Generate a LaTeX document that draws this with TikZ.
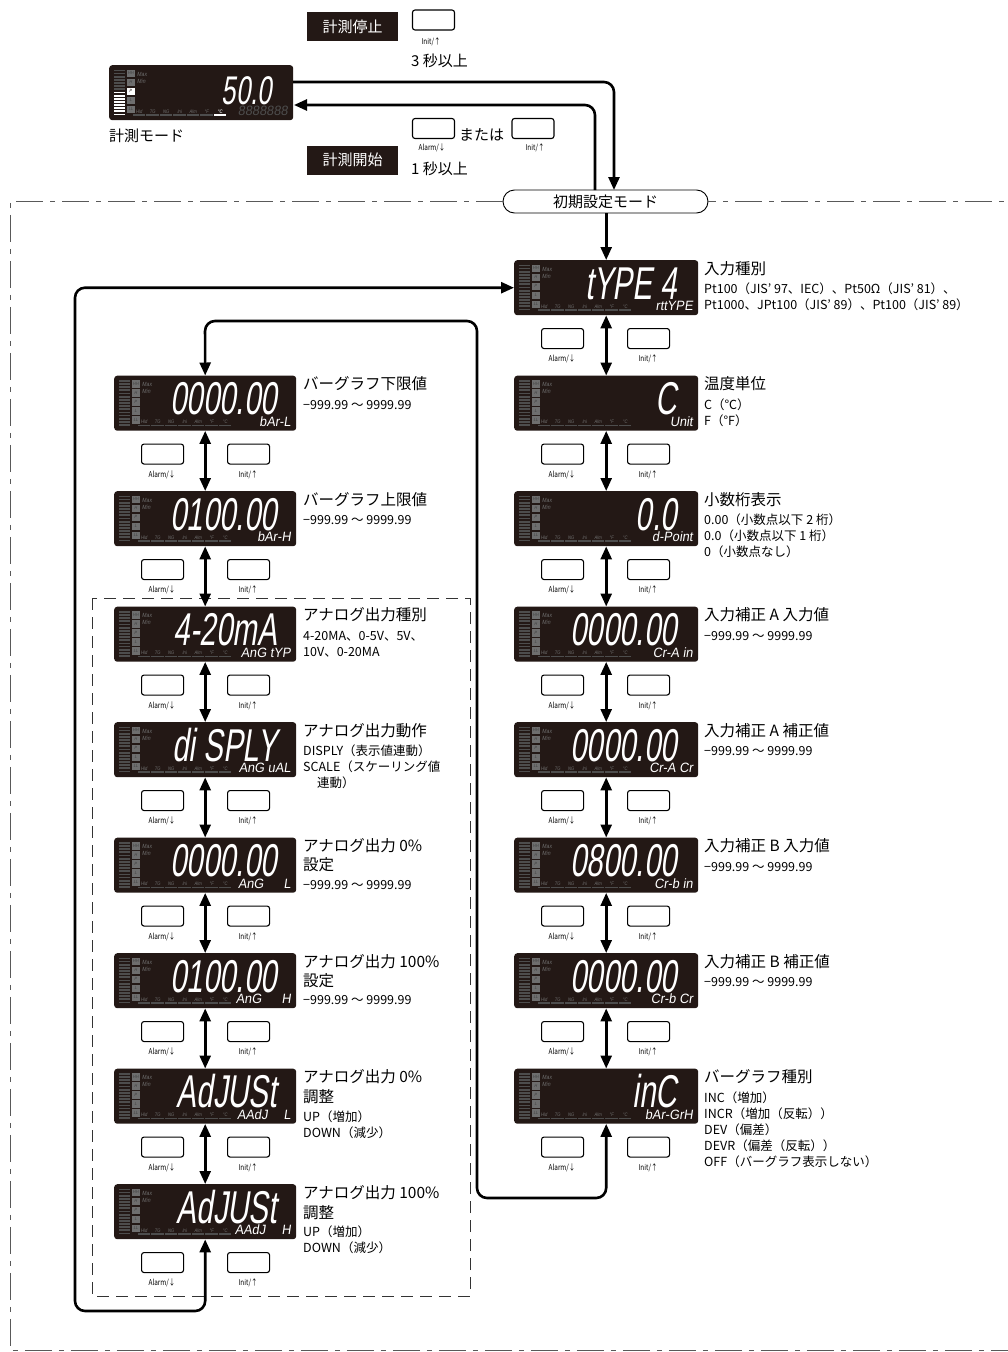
\documentclass[tikz,border=0pt]{standalone}
\usepackage{fontspec}
\setmainfont{Noto Sans CJK JP}
\newfontfamily\segfont[FakeSlant=0.15,FakeStretch=0.64]{Liberation Sans}
\newfontfamily\subfont[FakeSlant=0.15,FakeStretch=0.95]{Liberation Sans}
\newfontfamily\lblfont[FakeSlant=0.15,FakeStretch=0.85]{Liberation Sans}
\newfontfamily\btnfont[FakeStretch=0.8]{Noto Sans CJK JP}
\usetikzlibrary{arrows.meta}
\definecolor{pbg}{HTML}{231815}
\definecolor{pbar}{HTML}{4D4D4D}
\definecolor{plbl}{HTML}{6E6E6E}
\tikzset{
  >={Triangle[length=13pt,width=11pt]},
  panelbox/.style={fill=pbg, rounded corners=3pt, inner sep=0, minimum height=55pt, anchor=north west},
  btn/.style={draw=black, line width=1.1pt, fill=white, rounded corners=2.5pt, minimum width=42pt, minimum height=20pt, inner sep=0},
  btnlbl/.style={font=\btnfont\fontsize{8}{8}\selectfont, inner sep=0},
  conn/.style={line width=2.6pt, draw=black},
  tinylbl/.style={font=\lblfont\fontsize{4.5}{4.5}\selectfont, text=black!75, inner sep=0},
  maxlbl/.style={font=\lblfont\fontsize{6}{6}\selectfont, text=plbl, inner sep=0, anchor=west},
  botlbl/.style={font=\lblfont\fontsize{5}{5}\selectfont, text=plbl, inner sep=0},
  segmain/.style={font=\segfont\fontsize{46}{46}\selectfont, text=white, anchor=base east, inner sep=0},
  segsub/.style={font=\subfont\fontsize{13.5}{13.5}\selectfont, text=white, anchor=base east, inner sep=0},
  dtitle/.style={font=\fontsize{15.5}{19}\selectfont, inner sep=0, anchor=base west},
  ddet/.style={font=\fontsize{12.5}{16}\selectfont, inner sep=0, anchor=base west},
  jtext/.style={font=\fontsize{15}{18}\selectfont, inner sep=0, anchor=base west},
  blackbox/.style={fill=pbg, text=white, font=\fontsize{15}{15}\selectfont, minimum width=91pt, minimum height=29pt, inner sep=0},
  pill/.style={draw=black, line width=0.9pt, fill=white, rounded corners=11.5pt, minimum width=205pt, minimum height=23pt, inner sep=0, font=\fontsize{15}{15}\selectfont},
  dashdotbox/.style={draw=black!65, line width=0.9pt, dash pattern=on 27pt off 7pt on 5pt off 7pt},
  dashedbox/.style={draw=black!80, line width=0.9pt, dash pattern=on 12pt off 7pt},
}
% name, x, y, main, sub, width
\newcommand\dpanel[6]{%
  \node[panelbox, minimum width=#6] (#1) at (#2,#3) {};
  \begin{scope}[shift={(#2,#3)}]
    \foreach \i in {0,...,14}{\fill[pbar] (5,{4.5+\i*3.15}) rectangle (16,{6.3+\i*3.15});}
    \foreach \t/\yy [count=\c] in {HH/4.5,H/13.5,P/22.5,L/31.5,LL/40.5}{%
      \fill[plbl] (18,\yy) rectangle (25.5,\yy+7.5);
      \node[tinylbl] (#1-h\c) at (21.75,\yy+3.9) {\t};}
    \node[maxlbl] (#1-max) at (28,9) {Max};
    \node[maxlbl] (#1-min) at (28,16) {Min};
    \foreach \t/\xx [count=\c] in {Hld/30,TG/43.5,NG/57,Ini/70.5,Alm/84,°F/97.5,°C/111}{%
      \node[botlbl] (#1-b\c) at (\xx,46.3) {\t};
      \fill[pbar] (\xx-6.3,49.3) rectangle (\xx+6,50.7);}
    \node[segmain] (#1-main) at (163,39) {#4};
    \node[segsub] (#1-sub) at (#6-5,50.5) {#5};
  \end{scope}}
% name, panel left x, panel bottom y
\newcommand\btns[3]{%
  \node[btn, anchor=north west] (#1a) at (#2+27,#3+13) {};
  \node[btnlbl] (#1al) at (#2+48,#3+44) {Alarm/↓};
  \node[btn, anchor=north west] (#1i) at (#2+113,#3+13) {};
  \node[btnlbl] (#1il) at (#2+134,#3+44) {Init/↑};}
% name prefix, x, first baseline, lines
\newcommand\dl[4]{%
  \foreach \L [count=\k] in {#4}{\node[ddet] (#1\k) at (#2,{#3+(\k-1)*16}) {\L};}}
\begin{document}
\begin{tikzpicture}[x=1pt,y=-1pt]
\useasboundingbox (0,0) rectangle (1007,1352);

% outer dash-dot frame and inner dashed frame
\node[pill] (pill) at (605.5,201.5) {初期設定モード};
\draw[dashdotbox] (pill.west) -- (10,201.5) -- (10,1350) -- (1015,1350) -- (1015,201.5) -- (pill.east);
\draw[dashedbox] (92,598) rectangle (470,1296);

% top: measurement mode
\node[blackbox] (stop) at (352.5,26.5) {計測停止};
\node[btn] (stopbtn) at (433.5,20) {};
\node[btnlbl] (stopl) at (431,42) {Init/↑};
\node[jtext] (sec3) at (411,66) {3 秒以上};

\dpanel{M}{109}{65}{{\fontsize{40}{40}\selectfont 50.0}}{{\color{pbar}8888888}}{184}
\begin{scope}[shift={(109,65)}]
  \foreach \i in {7,...,14}{\fill[white] (5,{4.5+\i*3.15}) rectangle (16,{6.3+\i*3.15});}
  \fill[white] (18,22.5) rectangle (25.5,30);
  \node[tinylbl, text=pbg] (M-P2) at (21.75,26.4) {P};
  \fill[white] (104.7,49.3) rectangle (117,50.9);
  \node[botlbl, text=white] (M-C2) at (111,46.3) {°C};
\end{scope}
\node[jtext] (mmode) at (109,141) {計測モード};

\node[btn] (stA) at (433.5,128.5) {};
\node[jtext] (mataha) at (459,140) {または};
\node[btn] (stI) at (533,128.5) {};
\node[btnlbl] (stAl) at (432,148) {Alarm/↓};
\node[btnlbl] (stIl) at (535,148) {Init/↑};
\node[blackbox] (start) at (352.5,160) {計測開始};
\node[jtext] (sec1) at (411,174) {1 秒以上};

\coordinate (m1) at (293,82);
\coordinate (p1) at (614,190);
\coordinate (p2) at (595,190);
\coordinate (m2) at (294,105);
\draw[conn,->,rounded corners=10pt] (m1) -| (p1);
\draw[conn,->,rounded corners=10pt] (p2) |- (m2);

% right column
\dpanel{R0}{514}{260}{tYPE 4}{rttYPE}{184}
\dpanel{R1}{514}{375.5}{C}{Unit}{184}
\dpanel{R2}{514}{491}{0.0}{d-Point}{184}
\dpanel{R3}{514}{606.5}{0000.00}{Cr-A in}{184}
\dpanel{R4}{514}{722}{0000.00}{Cr-A Cr}{184}
\dpanel{R5}{514}{837.5}{0800.00}{Cr-b in}{184}
\dpanel{R6}{514}{953}{0000.00}{Cr-b Cr}{184}
\dpanel{R7}{514}{1068.5}{inC}{bAr-GrH}{184}
\btns{RB0}{514}{315}
\btns{RB1}{514}{430.5}
\btns{RB2}{514}{546}
\btns{RB3}{514}{661.5}
\btns{RB4}{514}{777}
\btns{RB5}{514}{892.5}
\btns{RB6}{514}{1008}
\btns{RB7}{514}{1123.5}

% left column
\dpanel{L1}{114}{375.5}{0000.00}{bAr-L}{182}
\dpanel{L2}{114}{491}{0100.00}{bAr-H}{182}
\dpanel{L3}{114}{606.5}{4-20mA}{AnG tYP}{182}
\dpanel{L4}{114}{722}{di SPLY}{AnG uAL}{182}
\dpanel{L5}{114}{837.5}{0000.00}{AnG\hspace{20pt}L}{182}
\dpanel{L6}{114}{953}{0100.00}{AnG\hspace{20pt}H}{182}
\dpanel{L7}{114}{1068.5}{AdJUSt}{AAdJ\hspace{16pt}L}{182}
\dpanel{L8}{114}{1184}{AdJUSt}{AAdJ\hspace{16pt}H}{182}
\btns{LB1}{114}{430.5}
\btns{LB2}{114}{546}
\btns{LB3}{114}{661.5}
\btns{LB4}{114}{777}
\btns{LB5}{114}{892.5}
\btns{LB6}{114}{1008}
\btns{LB7}{114}{1123.5}
\btns{LB8}{114}{1239}

% connectors between panels
\draw[conn,->] (pill.south -| R0.north) -- (R0.north);
\foreach \i [evaluate=\i as \j using int(\i+1)] in {0,...,6}{\draw[conn,<->] (R\i.south) -- (R\j.north);}
\foreach \i [evaluate=\i as \j using int(\i+1)] in {1,...,7}{\draw[conn,<->] (L\i.south) -- (L\j.north);}

\coordinate (lc1) at (75,1311);
\draw[conn,<->,rounded corners=10pt] (L8.south) |- (lc1) |- (R0.west);
\coordinate (rc1) at (477,1198);
\coordinate (rc2) at (205,321);
\draw[conn,<->,rounded corners=10pt] (R7.south) |- (rc1) |- (rc2) -- (L1.north);

% right column texts
\node[dtitle] (tR0) at (704,274) {入力種別};
\dl{dR0-}{704}{293.5}{Pt100（JIS’ 97、IEC）、Pt50Ω（JIS’ 81）、,Pt1000、JPt100（JIS’ 89）、Pt100（JIS’ 89）}
\node[dtitle] (tR1) at (704,389.5) {温度単位};
\dl{dR1-}{704}{409}{C（℃）,F（°F）}
\node[dtitle] (tR2) at (704,505) {小数桁表示};
\dl{dR2-}{704}{524.5}{0.00（小数点以下 2 桁）,0.0（小数点以下 1 桁）,0（小数点なし）}
\node[dtitle] (tR3) at (704,620.5) {入力補正 A 入力値};
\dl{dR3-}{704}{640}{−999.99 ～ 9999.99}
\node[dtitle] (tR4) at (704,736) {入力補正 A 補正値};
\dl{dR4-}{704}{755.5}{−999.99 ～ 9999.99}
\node[dtitle] (tR5) at (704,851.5) {入力補正 B 入力値};
\dl{dR5-}{704}{871}{−999.99 ～ 9999.99}
\node[dtitle] (tR6) at (704,967) {入力補正 B 補正値};
\dl{dR6-}{704}{986.5}{−999.99 ～ 9999.99}
\node[dtitle] (tR7) at (704,1082.5) {バーグラフ種別};
\dl{dR7-}{704}{1102}{INC（増加）,INCR（増加（反転））,DEV（偏差）,DEVR（偏差（反転））,OFF（バーグラフ表示しない）}

% left column texts
\node[dtitle] (tL1) at (303,389.5) {バーグラフ下限値};
\dl{dL1-}{303}{409}{−999.99 ～ 9999.99}
\node[dtitle] (tL2) at (303,505) {バーグラフ上限値};
\dl{dL2-}{303}{524.5}{−999.99 ～ 9999.99}
\node[dtitle] (tL3) at (303,620.5) {アナログ出力種別};
\dl{dL3-}{303}{640}{4-20MA、0-5V、5V、,10V、0-20MA}
\node[dtitle] (tL4) at (303,736) {アナログ出力動作};
\dl{dL4-}{303}{755.5}{DISPLY（表示値連動）,SCALE（スケーリング値}
\node[ddet] (dL4-3) at (317,787.5) {連動）};
\node[dtitle] (tL5) at (303,851.5) {アナログ出力 0\%};
\node[dtitle] (tL5b) at (303,870.5) {設定};
\dl{dL5-}{303}{889}{−999.99 ～ 9999.99}
\node[dtitle] (tL6) at (303,967) {アナログ出力 100\%};
\node[dtitle] (tL6b) at (303,986) {設定};
\dl{dL6-}{303}{1004.5}{−999.99 ～ 9999.99}
\node[dtitle] (tL7) at (303,1082.5) {アナログ出力 0\%};
\node[dtitle] (tL7b) at (303,1102.5) {調整};
\dl{dL7-}{303}{1121}{UP（増加）,DOWN（減少）}
\node[dtitle] (tL8) at (303,1198) {アナログ出力 100\%};
\node[dtitle] (tL8b) at (303,1218) {調整};
\dl{dL8-}{303}{1236.5}{UP（増加）,DOWN（減少）}
\end{tikzpicture}
\end{document}
